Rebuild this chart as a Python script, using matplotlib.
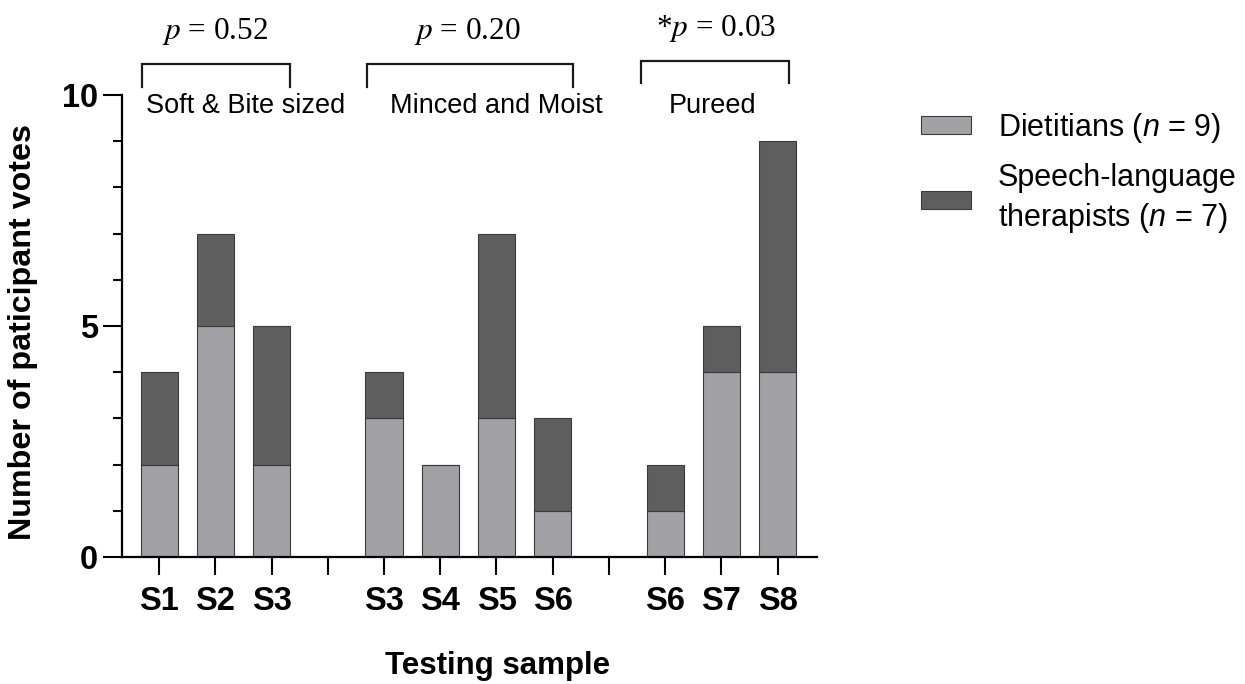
import matplotlib
matplotlib.use('Agg')
import matplotlib.pyplot as plt
from matplotlib.patches import Patch
from matplotlib.ticker import MultipleLocator

# ---- data ----
samples = ['S1', 'S2', 'S3', 'S3', 'S4', 'S5', 'S6', 'S6', 'S7', 'S8']
dietitians = [2, 5, 2, 3, 2, 3, 1, 1, 4, 4]
slt = [2, 2, 3, 1, 0, 4, 2, 1, 1, 5]
groups = ['Soft & Bite sized', 'Minced and Moist', 'Pureed']
p_values = ['$p$ = 0.52', '$p$ = 0.20', '*$p$ = 0.03']
legend_labels = ['Dietitians ($n$ = 9)', 'Speech-language\ntherapists ($n$ = 7)']

# ---- layout ----
positions = [0, 1, 2, 4, 5, 6, 7, 9, 10, 11]
gap_ticks = [3, 8]
bracket_x = [(-0.3, 2.33), (3.7, 7.36), (8.57, 11.2)]
bracket_y = [(10.67, 10.17), (10.67, 10.17), (10.74, 10.26)]
group_label_x = [1.54, 6.0, 9.84]
p_x = [1.0, 5.49, 9.9]
p_y = [11.37, 11.37, 11.45]

light = '#a2a1a6'
dark = '#5e5e5e'
edge = '#3a3a3a'

plt.rcParams['font.family'] = ['Liberation Sans', 'DejaVu Sans']
plt.rcParams['mathtext.fontset'] = 'custom'
plt.rcParams['mathtext.rm'] = 'Liberation Sans'
plt.rcParams['mathtext.it'] = 'Liberation Sans:italic'

fig = plt.figure(figsize=(12.45, 6.84), dpi=100)
ax = fig.add_axes([122/1245, 1-557/684, (817-122)/1245, (557-95)/684])

w = 0.66
ax.bar(positions, dietitians, width=w, color=light, edgecolor=edge, linewidth=0.8,
       label=legend_labels[0])
ax.bar(positions, slt, width=w, bottom=dietitians, color=dark, edgecolor=edge,
       linewidth=0.8, label=legend_labels[1])

ax.set_xlim(-0.66, 11.7)
ax.set_ylim(0, 10)

for s in ['top', 'right']:
    ax.spines[s].set_visible(False)
for s in ['left', 'bottom']:
    ax.spines[s].set_linewidth(1.6)

ax.set_xticks(positions + gap_ticks)
ax.set_xticklabels(samples + [''] * len(gap_ticks), fontsize=23.5, fontweight='bold')
ax.tick_params(axis='x', length=13, width=1.5, pad=8)
ax.yaxis.set_major_locator(MultipleLocator(5))
ax.yaxis.set_minor_locator(MultipleLocator(1))
ax.tick_params(axis='y', which='major', length=13.5, width=1.5, pad=4, labelsize=23.5)
ax.tick_params(axis='y', which='minor', length=6.5, width=1.5)
for t in ax.get_yticklabels():
    t.set_fontweight('bold')

ax.set_ylabel('Number of paticipant votes', fontsize=23.2, fontweight='bold')
ax.yaxis.set_label_coords(-0.121, 0.488)
ax.set_xlabel('Testing sample', fontsize=22.5, fontweight='bold')
ax.xaxis.set_label_coords(0.54, -0.203)

for (x0, x1), (yt, yb) in zip(bracket_x, bracket_y):
    ax.plot([x0, x0, x1, x1], [yb, yt, yt, yb], color='#1a1a1a', lw=1.6,
            clip_on=False, solid_joinstyle='miter')

for x, g in zip(group_label_x, groups):
    ax.text(x, 9.76, g, ha='center', va='center', fontsize=19.5, clip_on=False)

for x, y, p in zip(p_x, p_y, p_values):
    ax.text(x, y, p, ha='center', va='center', fontsize=22.5, clip_on=False,
            family='Liberation Serif', math_fontfamily='stix')

handles = [Patch(facecolor=light, edgecolor=edge, linewidth=0.8),
           Patch(facecolor=dark, edgecolor=edge, linewidth=0.8)]
leg = fig.legend(handles, legend_labels, loc='upper left',
                 bbox_to_anchor=(921/1245, 1-111/684),
                 frameon=False, fontsize=22, handlelength=1.63, handleheight=0.52,
                 handletextpad=0.88, labelspacing=0.6, borderaxespad=0, borderpad=0)
leg.get_texts()[1].set_linespacing(1.3)

fig.savefig('out.png', dpi=100)
